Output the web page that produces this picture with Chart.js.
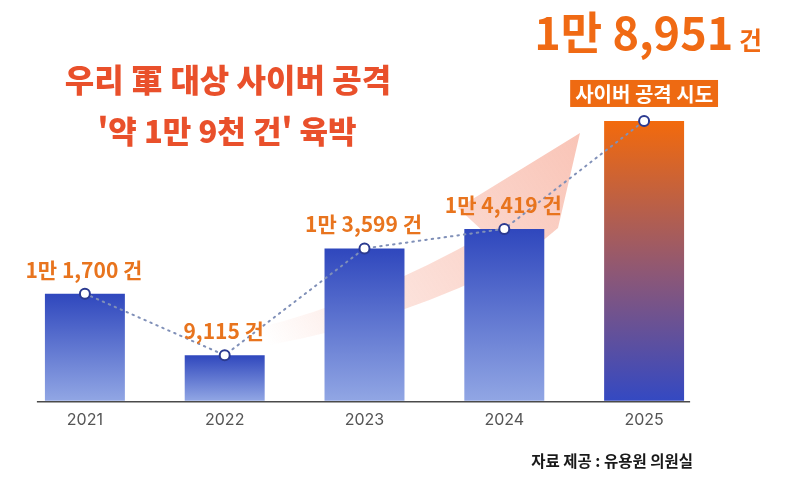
<!DOCTYPE html>
<html lang="ko">
<head>
<meta charset="utf-8">
<script src="https://cdn.jsdelivr.net/npm/chart.js@4.4.1/dist/chart.umd.min.js"></script>
<style>
  html, body { margin: 0; padding: 0; background: #fff; }
  canvas { display: block; }
</style>
</head>
<body>
<canvas id="attackChart" width="790" height="488"></canvas>
<script>
// data
const years = ["2021", "2022", "2023", "2024", "2025"];
const attacks = [11700, 9115, 13599, 14419, 18951];
const yRange = [7200, 20000];
const titleLines = ["우리 軍 대상 사이버 공격", "'약 1만 9천 건' 육박"];
const highlightTag = "사이버 공격 시도";
const sourceNote = "자료 제공 : 유용원 의원실";

const KR = '"Noto Sans CJK KR", "Noto Sans", sans-serif';

// 11700 -> "1만 1,700"
function fmt(v) {
  const man = Math.floor(v / 10000);
  const rest = (v % 10000).toLocaleString("en-US");
  return man > 0 ? man + "만 " + rest : rest;
}

function barFill(c) {
  const chart = c.chart;
  const area = chart.chartArea;
  if (!area) return "#4a63c8";
  const top = chart.scales.y.getPixelForValue(c.raw);
  const g = chart.ctx.createLinearGradient(0, top, 0, area.bottom);
  if (c.dataIndex === attacks.length - 1) {
    g.addColorStop(0, "#f36a0c");
    g.addColorStop(0.55, "#8c5777");
    g.addColorStop(1, "#3449c2");
  } else {
    g.addColorStop(0, "#2f47bd");
    g.addColorStop(1, "#91a6e4");
  }
  return g;
}

const decor = {
  id: "decor",
  beforeDatasetsDraw(chart) {
    const ctx = chart.ctx;
    // pale rising arrow behind the bars
    ctx.save();
    const g = ctx.createLinearGradient(262, 335, 580, 133);
    g.addColorStop(0, "rgba(242,125,95,0)");
    g.addColorStop(0.35, "rgba(242,125,95,0.22)");
    g.addColorStop(1, "rgba(242,125,95,0.45)");
    ctx.fillStyle = g;
    ctx.beginPath();
    ctx.moveTo(258, 328);
    ctx.quadraticCurveTo(370, 300, 486, 234);
    ctx.lineTo(458, 208);
    ctx.lineTo(580, 133);
    ctx.lineTo(558, 228);
    ctx.lineTo(522, 258);
    ctx.quadraticCurveTo(400, 322, 264, 346);
    ctx.closePath();
    ctx.fill();
    ctx.restore();
  },
  afterDatasetsDraw(chart) {
    const ctx = chart.ctx;
    const x = chart.scales.x;
    const area = chart.chartArea;
    const bars = chart.getDatasetMeta(0).data;
    ctx.save();

    // baseline
    ctx.strokeStyle = "#4a4a4a";
    ctx.lineWidth = 1.5;
    ctx.beginPath();
    ctx.moveTo(x.getPixelForValue(0) - 48, area.bottom + 1);
    ctx.lineTo(x.getPixelForValue(attacks.length - 1) + 46, area.bottom + 1);
    ctx.stroke();

    // value labels
    ctx.textAlign = "center";
    ctx.textBaseline = "middle";
    bars.forEach((b, i) => {
      if (i === attacks.length - 1) return;
      ctx.fillStyle = "#e8741e";
      ctx.font = "bold 21px " + KR;
      ctx.fillText(fmt(attacks[i]) + " 건", b.x - 1, b.y - 24);
    });

    // highlighted last value
    const last = bars[attacks.length - 1];
    ctx.textBaseline = "alphabetic";
    ctx.font = "bold 45px " + KR;
    const big = fmt(attacks[attacks.length - 1]);
    const wBig = ctx.measureText(big).width;
    ctx.font = "bold 25px " + KR;
    const wSmall = ctx.measureText(" 건").width;
    const startX = last.x + 4 - (wBig + wSmall) / 2;
    ctx.textAlign = "left";
    ctx.fillStyle = "#f06a14";
    ctx.font = "bold 45px " + KR;
    ctx.fillText(big, startX, last.y - 71);
    ctx.font = "bold 25px " + KR;
    ctx.fillText(" 건", startX + wBig, last.y - 71);

    ctx.font = "bold 20px " + KR;
    const wTag = ctx.measureText(highlightTag).width + 10;
    ctx.fillStyle = "#ee6a12";
    ctx.fillRect(last.x - wTag / 2, last.y - 41, wTag, 27);
    ctx.fillStyle = "#ffffff";
    ctx.textAlign = "center";
    ctx.textBaseline = "middle";
    ctx.fillText(highlightTag, last.x, last.y - 27);

    // headline
    ctx.fillStyle = "#e9502b";
    ctx.font = "900 32px " + KR;
    ctx.fillText(titleLines[0], 228, 80);
    ctx.font = "900 31px " + KR;
    ctx.fillText(titleLines[1], 227, 131);

    // source
    ctx.fillStyle = "#1a1a1a";
    ctx.font = "bold 15.5px " + KR;
    ctx.textAlign = "right";
    ctx.fillText(sourceNote, 693, 461);
    ctx.restore();
  }
};

new Chart(document.getElementById("attackChart"), {
  data: {
    labels: years,
    datasets: [
      {
        type: "bar",
        data: attacks,
        backgroundColor: barFill,
        categoryPercentage: 1,
        barPercentage: 0.572,
        order: 2
      },
      {
        type: "line",
        data: attacks,
        borderColor: "#8090b8",
        borderWidth: 2,
        borderDash: [1.5, 5],
        borderCapStyle: "round",
        pointRadius: 5,
        pointHoverRadius: 5,
        pointBackgroundColor: "#ffffff",
        pointBorderColor: "#2b3a90",
        pointBorderWidth: 2,
        tension: 0,
        order: 1
      }
    ]
  },
  options: {
    responsive: false,
    animation: false,
    layout: { padding: { top: 96, left: 15, right: 76, bottom: 48 } },
    plugins: {
      legend: { display: false },
      tooltip: { enabled: false }
    },
    scales: {
      x: {
        grid: { display: false, drawTicks: false },
        border: { display: false },
        ticks: {
          color: "#555",
          padding: 10,
          font: { family: "Inter, 'Noto Sans', sans-serif", size: 16 }
        }
      },
      y: {
        display: false,
        min: yRange[0],
        max: yRange[1]
      }
    }
  },
  plugins: [decor]
});
</script>
</body>
</html>
